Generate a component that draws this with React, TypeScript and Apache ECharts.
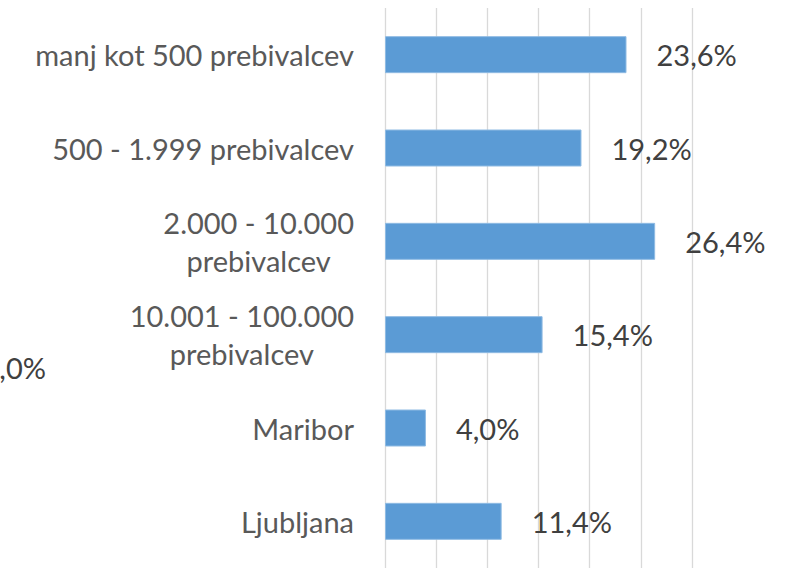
import React, { useEffect, useRef } from "react";
import * as echarts from "echarts";

const categories = [
  "manj kot 500 prebivalcev",
  "500 - 1.999 prebivalcev",
  "2.000 - 10.000\nprebivalcev",
  "10.001 - 100.000\nprebivalcev",
  "Maribor",
  "Ljubljana",
];
const values = [23.6, 19.2, 26.4, 15.4, 4.0, 11.4];
const axisMin = 0;
const axisMax = 30;
const axisStep = 5;
const strayLabel = "0,0%";

const FONT = "Lato, 'Open Sans', sans-serif";
const FS = 29;

export default function App() {
  const ref = useRef<HTMLDivElement>(null);
  useEffect(() => {
    if (!ref.current) return;
    const chart = echarts.init(ref.current, null, { renderer: "svg" });
    chart.setOption({
      animation: false,
      backgroundColor: "#ffffff",
      grid: { left: 385, right: 103, top: 8, bottom: 3, containLabel: false },
      xAxis: {
        type: "value",
        min: axisMin,
        max: axisMax,
        interval: axisStep,
        axisLabel: { show: false },
        axisLine: { show: false },
        axisTick: { show: false },
        splitLine: { show: true, lineStyle: { color: "#d9d9d9", width: 1.3 } },
      },
      yAxis: {
        type: "category",
        data: categories,
        inverse: true,
        axisLine: { show: false },
        axisTick: { show: false },
        axisLabel: {
          margin: 31,
          formatter: (v: string) =>
            v
              .split("\n")
              .map((l) => `{c|${l}}`)
              .join("\n"),
          rich: {
            c: {
              align: "center",
              fontSize: FS,
              fontFamily: FONT,
              color: "#595959",
              lineHeight: 38,
            },
          },
        },
      },
      series: [
        {
          type: "bar",
          data: values,
          barWidth: 37,
          itemStyle: { color: "#5b9bd5", borderColor: "#8fbbe3", borderWidth: 1 },
          label: {
            show: true,
            position: "right",
            distance: 30,
            fontSize: FS,
            fontFamily: FONT,
            color: "#404040",
            formatter: (p: any) => p.value.toFixed(1).replace(".", ",") + "%",
          },
        },
      ],
      graphic: [
        {
          type: "text",
          x: 46,
          y: 367,
          style: {
            text: strayLabel,
            align: "right",
            verticalAlign: "middle",
            fontSize: FS,
            fontFamily: FONT,
            fill: "#404040",
          },
        },
      ],
    });
    return () => chart.dispose();
  }, []);
  return (
    <div
      ref={ref}
      style={{ position: "fixed", left: 0, top: 0, width: 795, height: 571 }}
    />
  );
}
